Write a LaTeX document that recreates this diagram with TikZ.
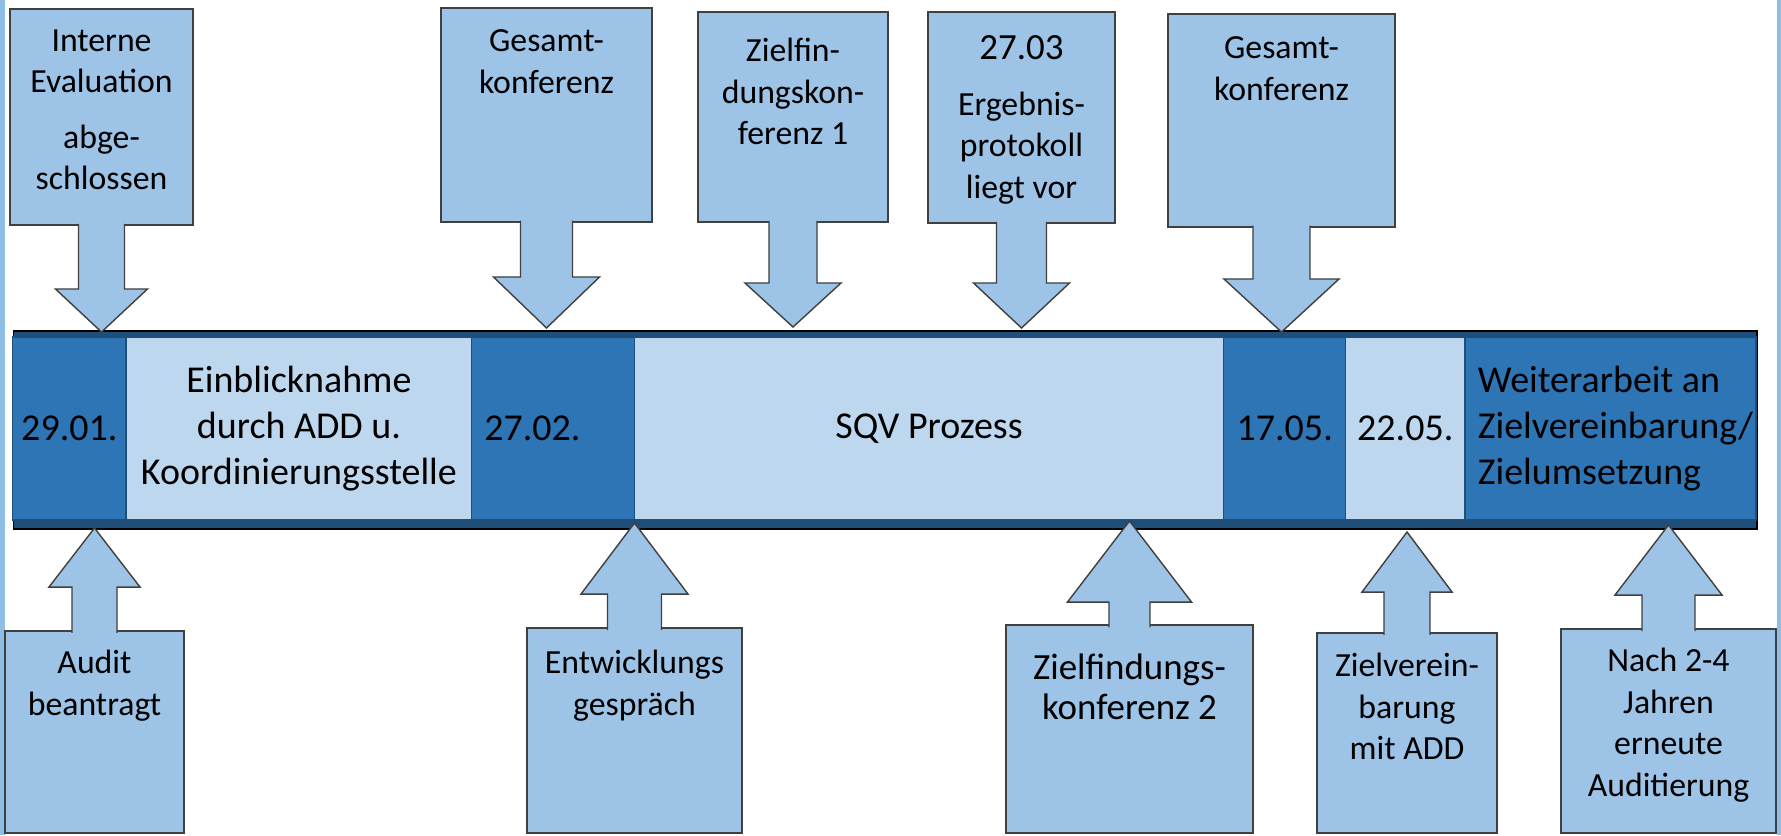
\documentclass[tikz,border=0pt]{standalone}
\usepackage{fontspec}
\setmainfont{Carlito}
\usepackage{tikz}
\usetikzlibrary{positioning}
\usetikzlibrary{calc}

\definecolor{balkenrand}{HTML}{1F4E79}
\definecolor{dunkelblau}{HTML}{2E75B6}
\definecolor{hellblau}{HTML}{BDD7EE}
\definecolor{kastenblau}{HTML}{9DC3E6}
\definecolor{randgrau}{HTML}{404040}
\definecolor{streifen}{HTML}{8EBEE6}

\tikzset{kasten/.style = {
rectangle, draw=randgrau, fill=kastenblau, line width=0.4pt, anchor=north, inner sep=0pt, outer sep=0pt
}}
\tikzset{ktext/.style = {align=center, inner sep=0pt, font=\fontsize{9.6}{11.8}\selectfont}}
\tikzset{zelle/.style = {
rectangle, draw=balkenrand, line width=0.4pt, minimum height=1.83cm, inner sep=0pt, outer sep=0pt, align=center, font=\fontsize{10.8}{13}\selectfont
}}
\tikzset{dzelle/.style = {zelle, fill=dunkelblau}}
\tikzset{hzelle/.style = {zelle, fill=hellblau}}
\tikzset{pfeilstil/.style = {draw=randgrau, fill=kastenblau, line width=0.4pt, line join=miter}}

% Blockpfeil: Kasten, Spitze, halbe Schaftbreite, halbe Kopfbreite, Kopflaenge
\newcommand\pfeil[5]{%
\filldraw[pfeilstil] let \p1=(#1), \p2=(#2) in
({\x2-#3},{\y1+0.03*#5}) -- ({\x2-#3},{\y2+#5}) -- ({\x2-#4},{\y2+#5}) -- (\x2,\y2)
-- ({\x2+#4},{\y2+#5}) -- ({\x2+#3},{\y2+#5}) -- ({\x2+#3},{\y1+0.03*#5});}

\begin{document}
\begin{tikzpicture}[x=0.01cm, y=-0.01cm]
\useasboundingbox (0,0) rectangle (1781,835);
\clip (0,0) rectangle (1781,835);

\fill[streifen] (0,0) rectangle (5,835);
\fill[streifen] (1777,0) rectangle (1781,835);

% Zeitstrahl
\node[rectangle, draw=black, fill=balkenrand, line width=0.5pt, minimum width=17.424cm, minimum height=1.98cm, anchor=north west, inner sep=0pt] (bar) at (12.6,330) {};
\node[dzelle, minimum width=1.134cm, anchor=west] (c1) at (12.6,428.5) {29.01.};
\node[hzelle, minimum width=3.455cm, right=0pt of c1] (c2) {Einblicknahme\\durch ADD u.\\Koordinierungsstelle};
\node[dzelle, text width=1.375cm, inner xsep=0.125cm, align=flush left, right=0pt of c2] (c3) {27.02.};
\node[hzelle, minimum width=5.89cm, right=0pt of c3] (c4) {SQV Prozess};
\node[dzelle, minimum width=1.22cm, right=0pt of c4] (c5) {17.05.};
\node[hzelle, minimum width=1.19cm, right=0pt of c5] (c6) {22.05.};
\node[dzelle, text width=2.65cm, inner xsep=0.13cm, align=flush left, right=0pt of c6] (c7) {Weiterarbeit an\\Zielvereinbarung/\\Zielumsetzung};

% Kaesten oben
\node[kasten, minimum width=1.83cm, minimum height=2.16cm] (ie) at (101.5,9) {};
\node[ktext, below=0.20cm of ie.north] (ietext) {Interne\\Evaluation\\[4pt]abge-\\schlossen};
\node[kasten, minimum width=2.11cm, minimum height=2.14cm] (gk1) at (546.5,8) {};
\node[ktext, below=0.21cm of gk1.north] (gk1text) {Gesamt-\\konferenz};
\node[kasten, minimum width=1.90cm, minimum height=2.10cm] (zk1) at (793,12) {};
\node[ktext, below=0.256cm of zk1.north] (zk1text) {Zielfin-\\dungskon-\\ferenz 1};
\node[kasten, minimum width=1.87cm, minimum height=2.11cm] (ep) at (1021.5,12) {};
\node[ktext, below=0.23cm of ep.north] (eptext) {{\fontsize{10.5}{12}\selectfont 27.03}\\[4pt]Ergebnis-\\protokoll\\liegt vor};
\node[kasten, minimum width=2.27cm, minimum height=2.13cm] (gk2) at (1281.5,14) {};
\node[ktext, below=0.22cm of gk2.north] (gk2text) {Gesamt-\\konferenz};

% Kaesten unten
\node[kasten, minimum width=1.79cm, minimum height=2.02cm] (au) at (94.5,631) {};
\node[ktext, below=0.186cm of au.north] (autext) {Audit\\beantragt};
\node[kasten, minimum width=2.15cm, minimum height=2.05cm] (eg) at (634.5,628) {};
\node[ktext, below=0.216cm of eg.north] (egtext) {Entwicklungs\\gespräch};
\node[kasten, minimum width=2.47cm, minimum height=2.08cm] (zk2) at (1129.5,625) {};
\node[ktext, font=\fontsize{10.5}{11.4}\selectfont, below=0.28cm of zk2.north] (zk2text) {Zielfindungs-\\konferenz 2};
\node[kasten, minimum width=1.80cm, minimum height=2.00cm] (zv) at (1407,633) {};
\node[ktext, below=0.195cm of zv.north] (zvtext) {Zielverein-\\barung\\mit ADD};
\node[kasten, minimum width=2.15cm, minimum height=2.04cm] (na) at (1668.5,629) {};
\node[ktext, below=0.186cm of na.north] (natext) {Nach 2-4\\Jahren\\erneute\\Auditierung};

% Pfeilspitzen am Zeitstrahl
\coordinate (s1) at (101.5,332);
\coordinate (s2) at (546.5,328);
\coordinate (s3) at (793,327);
\coordinate (s4) at (1021.5,328);
\coordinate (s5) at (1281.5,332);
\coordinate (s6) at (94.5,528);
\coordinate (s7) at (634.5,523);
\coordinate (s8) at (1129.5,521);
\coordinate (s9) at (1407,532);
\coordinate (s10) at (1668.5,525);

\pfeil{ie.south}{s1}{0.23cm}{0.46cm}{0.43cm}
\pfeil{gk1.south}{s2}{0.26cm}{0.53cm}{0.51cm}
\pfeil{zk1.south}{s3}{0.24cm}{0.48cm}{0.44cm}
\pfeil{ep.south}{s4}{0.25cm}{0.48cm}{0.45cm}
\pfeil{gk2.south}{s5}{0.285cm}{0.575cm}{0.53cm}
\pfeil{au.north}{s6}{0.225cm}{0.455cm}{-0.59cm}
\pfeil{eg.north}{s7}{0.27cm}{0.535cm}{-0.71cm}
\pfeil{zk2.north}{s8}{0.205cm}{0.62cm}{-0.81cm}
\pfeil{zv.north}{s9}{0.23cm}{0.45cm}{-0.60cm}
\pfeil{na.north}{s10}{0.265cm}{0.535cm}{-0.70cm}

\end{tikzpicture}
\end{document}
